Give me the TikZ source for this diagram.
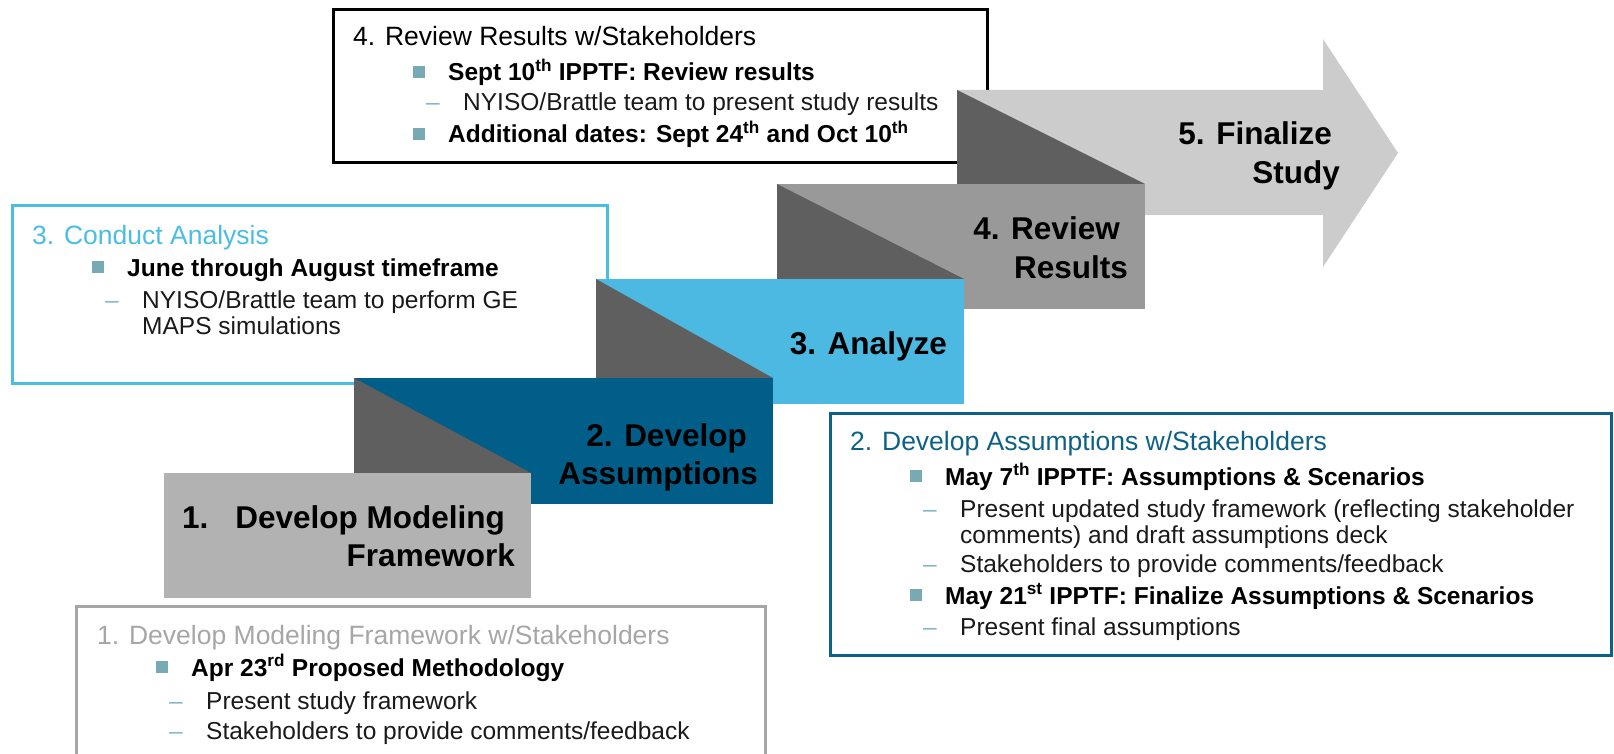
\documentclass[tikz,border=0pt]{standalone}
\usepackage{fontspec}
\setmainfont{Liberation Sans}
\definecolor{stepone}{HTML}{B2B2B2}
\definecolor{steptwo}{HTML}{005E88}
\definecolor{stepthree}{HTML}{4BB9E1}
\definecolor{stepfour}{HTML}{999999}
\definecolor{stepfive}{HTML}{CCCCCC}
\definecolor{tridark}{HTML}{5F5F5F}
\definecolor{boxblue}{HTML}{4BBDE3}
\definecolor{boxnavy}{HTML}{0E6186}
\definecolor{boxgray}{HTML}{A6A6A6}
\definecolor{bulteal}{HTML}{78AAB4}
\definecolor{dashteal}{HTML}{86B7C2}
\definecolor{subgray}{HTML}{1A1A1A}
% bullet line: name, box left, baseline, text
\newcommand\keybul[4]{%
  \node[bulsq] (#1sq) at ({#2+86},{#3-9}) {};
  \node[bultext] (#1) at ({#2+115},#3) {#4};}
% dash line: name, box left, baseline, text
\newcommand\keysub[4]{%
  \node[subdash] (#1d) at ({#2+93},#3) {\textendash};
  \node[subtext] (#1) at ({#2+130},#3) {#4};}

\begin{document}
\begin{tikzpicture}[x=1pt,y=-1pt,
    hdtext/.style={anchor=base west,inner sep=0pt,font=\fontsize{26.5}{30}\selectfont},
    bultext/.style={anchor=base west,inner sep=0pt,font=\bfseries\fontsize{24.5}{28}\selectfont},
    subtext/.style={anchor=base west,inner sep=0pt,text=subgray,font=\fontsize{24.5}{28}\selectfont},
    subdash/.style={anchor=base west,inner sep=0pt,text=dashteal,font=\fontsize{24.5}{28}\selectfont},
    bulsq/.style={fill=bulteal,minimum size=12pt,inner sep=0pt},
    steplbl/.style={anchor=base east,inner sep=0pt,font=\bfseries\fontsize{31.5}{36}\selectfont},
    textbox/.style={line width=3pt}]
\useasboundingbox (0,0) rectangle (1614,754);

% review box
\draw[textbox] (333,10) rectangle (987,163);
\node[hdtext] (rvh) at (353,46) {4. Review Results w/Stakeholders};
\keybul{rva}{333}{81}{Sept 10\textsuperscript{th} IPPTF: Review results}
\keysub{rvb}{333}{111}{NYISO/Brattle team to present study results}
\keybul{rvc}{333}{143}{Additional dates: Sept 24\textsuperscript{th} and Oct 10\textsuperscript{th}}

% analysis box
\draw[textbox,boxblue] (12,206) rectangle (607,383);
\node[hdtext,text=boxblue] (anh) at (32,244) {3. Conduct Analysis};
\keybul{ana}{12}{276}{June through August timeframe}
\keysub{anb}{12}{308}{NYISO/Brattle team to perform GE}
\node[subtext] (anc) at (142,334) {MAPS simulations};

% assumptions box
\draw[textbox,boxnavy] (830,413) rectangle (1611,655);
\node[hdtext,text=boxnavy] (ash) at (850,450) {2. Develop Assumptions w/Stakeholders};
\keybul{asa}{830}{485}{May 7\textsuperscript{th} IPPTF: Assumptions \& Scenarios}
\keysub{asb}{830}{517}{Present updated study framework (reflecting stakeholder}
\node[subtext] (asc) at (960,543) {comments) and draft assumptions deck};
\keysub{asd}{830}{572}{Stakeholders to provide comments/feedback}
\keybul{ase}{830}{604}{May 21\textsuperscript{st} IPPTF: Finalize Assumptions \& Scenarios}
\keysub{asf}{830}{635}{Present final assumptions}

% modeling box, open at the bottom
\draw[textbox,boxgray] (76,754) -- (76,606) -- (765,606) -- (765,754);
\node[hdtext,text=boxgray] (mdh) at (97,644) {1. Develop Modeling Framework w/Stakeholders};
\keybul{mda}{76}{676}{Apr 23\textsuperscript{rd} Proposed Methodology}
\keysub{mdb}{76}{709}{Present study framework}
\keysub{mdc}{76}{739}{Stakeholders to provide comments/feedback}

% steps, last one first
\fill[stepfive] (957,90) -- (1323,90) -- (1323,39) -- (1398,153) -- (1323,267)
  -- (1323,215) -- (957,215) -- cycle;
\fill[tridark] (957,90) -- (957,184) -- (1145,184) -- cycle;
\node[steplbl] (l5a) at (1332,145) {5. Finalize};
\node[steplbl] (l5b) at (1340,184) {Study};

\fill[stepfour] (777,184) rectangle (1145,309);
\fill[tridark] (777,184) -- (777,279) -- (964,279) -- cycle;
\node[steplbl] (l4a) at (1120,240) {4. Review};
\node[steplbl] (l4b) at (1128,278) {Results};

\fill[stepthree] (596,279) rectangle (964,404);
\fill[tridark] (596,279) -- (596,378) -- (773,378) -- cycle;
\node[steplbl] (l3) at (947,354) {3. Analyze};

\fill[steptwo] (354,378) rectangle (773,504);
\fill[tridark] (354,378) -- (354,473) -- (531,473) -- cycle;
\node[steplbl] (l2a) at (747,446) {2. Develop};
\node[steplbl] (l2b) at (758,484) {Assumptions};

\fill[stepone] (164,473) rectangle (531,598);
\node[steplbl] (l1a) at (505,528) {1.\hspace*{27pt}Develop Modeling};
\node[steplbl] (l1b) at (515,566) {Framework};
\end{tikzpicture}
\end{document}
